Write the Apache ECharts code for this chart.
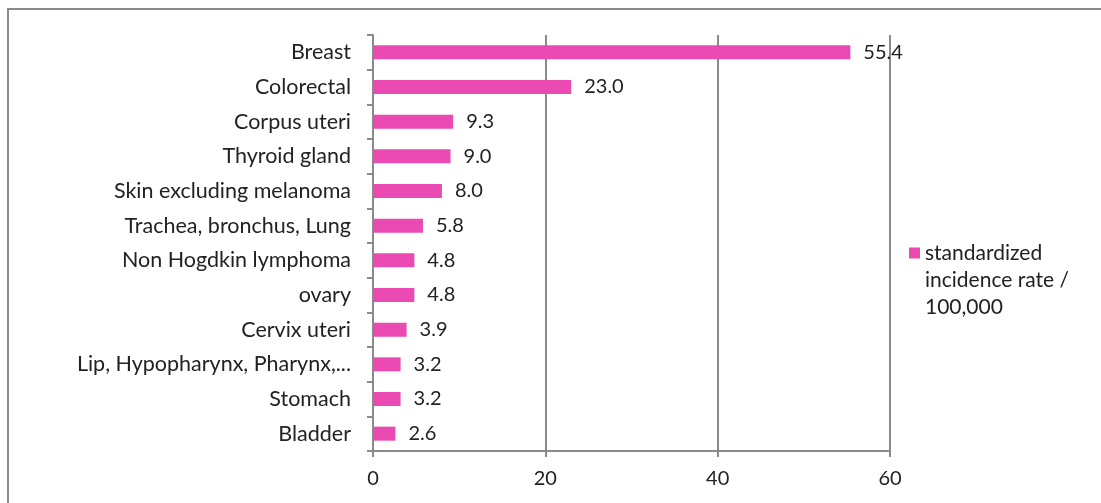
<!DOCTYPE html>
<html>
<head>
<meta charset="utf-8">
<script src="https://cdn.jsdelivr.net/npm/echarts@6/dist/echarts.min.js"></script>
<style>
  html, body { margin: 0; padding: 0; background: #fff; }
  #chart { width: 1101px; height: 503px; }
</style>
</head>
<body>
<div id="chart"></div>
<script>
// data
var sites = ['Breast', 'Colorectal', 'Corpus uteri', 'Thyroid gland', 'Skin excluding melanoma',
  'Trachea, bronchus, Lung', 'Non Hogdkin lymphoma', 'ovary', 'Cervix uteri',
  'Lip, Hypopharynx, Pharynx,...', 'Stomach', 'Bladder'];
var rates = [55.4, 23.0, 9.3, 9.0, 8.0, 5.8, 4.8, 4.8, 3.9, 3.2, 3.2, 2.6];
var xTicks = [0, 20, 40, 60];
var seriesName = 'standardized\nincidence rate /\n100,000';

var font = 'Lato, "Open Sans", sans-serif';
var pink = '#EA4AB1';
var gray = '#8a8a8a';

var chart = echarts.init(document.getElementById('chart'));
chart.setOption({
  animation: false,
  textStyle: { fontFamily: font },
  graphic: [{
    type: 'rect',
    shape: { x: 8, y: 9, width: 1200, height: 600 },
    style: { fill: 'none', stroke: gray, lineWidth: 2 },
    silent: true
  }],
  grid: { left: 373, right: 211, top: 35, bottom: 52 },
  legend: {
    left: 904,
    top: 235,
    orient: 'vertical',
    // square drawn at the top of a tall icon box so it sits beside the first text line
    icon: 'path://M0,0L10,0L10,10L0,10Z M0,60L0,60',
    itemWidth: 11,
    itemHeight: 66,
    itemGap: 4,
    textStyle: { fontFamily: font, fontSize: 21, color: '#222', lineHeight: 27 },
    data: [seriesName]
  },
  xAxis: {
    type: 'value',
    min: xTicks[0],
    max: xTicks[xTicks.length - 1],
    interval: 20,
    axisLine: { show: true, lineStyle: { color: gray, width: 2 } },
    axisTick: { show: true, length: 6, lineStyle: { color: gray, width: 2 } },
    axisLabel: { fontFamily: font, fontSize: 20, color: '#222', margin: 18 },
    splitLine: { show: true, lineStyle: { color: gray, width: 2 } }
  },
  yAxis: {
    type: 'category',
    inverse: true,
    data: sites,
    axisLine: { show: true, lineStyle: { color: gray, width: 2 } },
    axisTick: { show: true, length: 6, lineStyle: { color: gray, width: 2 } },
    axisLabel: { fontFamily: font, fontSize: 21.5, color: '#222', margin: 22 }
  },
  series: [{
    name: seriesName,
    type: 'bar',
    data: rates,
    barWidth: 14,
    itemStyle: { color: pink },
    label: {
      show: true,
      position: 'right',
      distance: 13,
      fontFamily: font,
      fontSize: 20,
      color: '#222',
      formatter: function (p) { return p.value.toFixed(1); }
    }
  }]
});
</script>
</body>
</html>
